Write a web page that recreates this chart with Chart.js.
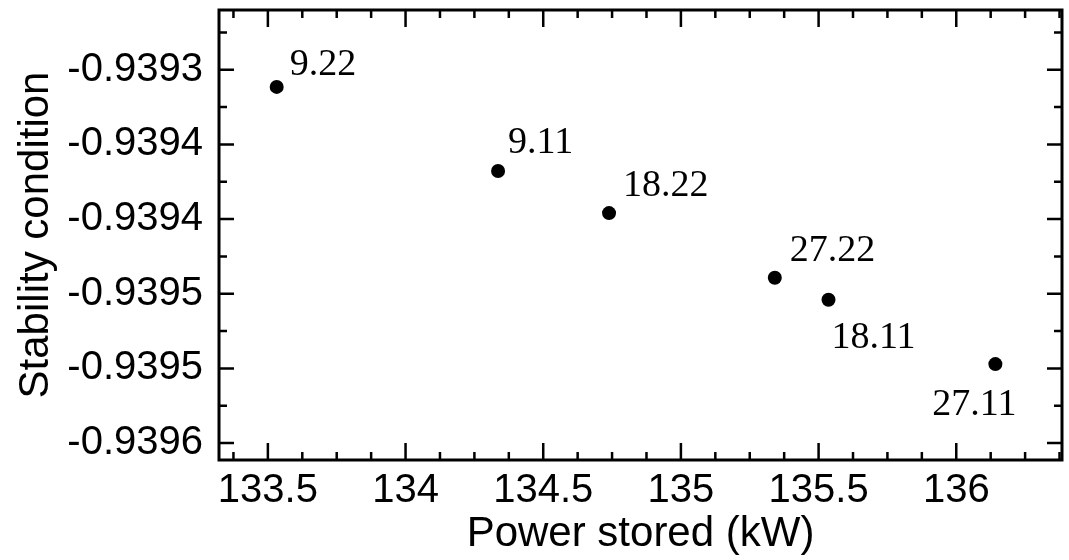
<!DOCTYPE html>
<html>
<head>
<meta charset="utf-8">
<script src="https://cdn.jsdelivr.net/npm/chart.js@4.4.0/dist/chart.umd.min.js"></script>
<style>
html, body { margin: 0; padding: 0; background: #fff; }
#wrap { width: 1069px; height: 560px; }
</style>
</head>
<body>
<div id="wrap"><canvas id="stabilityChart" width="1069" height="560"></canvas></div>
<script>
// data
var pointLabels = ['9.22', '9.11', '18.22', '27.22', '18.11', '27.11'];
var powerStored = [133.532, 134.336, 134.739, 135.341, 135.536, 136.142];
var stabilityCond = [-0.9393115, -0.9393678, -0.939396, -0.9394393, -0.939454, -0.9394971];

// axis ticks
var xTickValues = [133.5, 134, 134.5, 135, 135.5, 136];
var xTickLabels = ['133.5', '134', '134.5', '135', '135.5', '136'];
var yTickValues = [-0.9393, -0.93935, -0.9394, -0.93945, -0.9395, -0.93955];
var yTickLabels = ['-0.9393', '-0.9394', '-0.9394', '-0.9395', '-0.9395', '-0.9396'];

// where each label sits next to its dot (px, left / baseline)
var labelOffsets = [[13, -12], [10, -18], [14, -17], [15, -17], [3, 48], [-63, 51]];

var points = powerStored.map(function (x, i) {
    return { x: x, y: stabilityCond[i] };
});

// frame with inward ticks on all four sides + point labels
var framePlugin = {
    id: 'frame',
    afterDraw: function (chart) {
        var ctx = chart.ctx;
        var a = chart.chartArea;
        var xs = chart.scales.x;
        var ys = chart.scales.y;
        ctx.save();
        ctx.strokeStyle = '#000';
        ctx.lineCap = 'butt';

        // x ticks (major 0.5, minor 0.125)
        ctx.lineWidth = 2.5;
        for (var v = 133.25; v <= 136.5; v += 0.125) {
            var px = xs.getPixelForValue(v);
            if (px < a.left + 2 || px > a.right - 1) continue;
            var major = Math.abs(v * 2 - Math.round(v * 2)) < 1e-6;
            var len = major ? 17 : 8;
            ctx.beginPath();
            ctx.moveTo(px, a.bottom); ctx.lineTo(px, a.bottom - len);
            ctx.moveTo(px, a.top); ctx.lineTo(px, a.top + len);
            ctx.stroke();
        }
        // y ticks (major 0.00005, minor 0.000025)
        for (var k = -2; k <= 12; k++) {
            var val = -0.9393 - k * 0.000025;
            var py = ys.getPixelForValue(val);
            if (py < a.top + 1 || py > a.bottom - 2) continue;
            var maj = k % 2 === 0;
            var l = maj ? 15 : 8;
            ctx.beginPath();
            ctx.moveTo(a.left, py); ctx.lineTo(a.left + l, py);
            ctx.moveTo(a.right, py); ctx.lineTo(a.right - l, py);
            ctx.stroke();
        }
        // frame
        ctx.lineWidth = 3;
        ctx.strokeRect(a.left, a.top, a.right - a.left, a.bottom - a.top);

        // labels
        var meta = chart.getDatasetMeta(0);
        ctx.fillStyle = '#000';
        ctx.font = '38px "Liberation Serif", "Times New Roman", serif';
        ctx.textAlign = 'left';
        ctx.textBaseline = 'alphabetic';
        meta.data.forEach(function (pt, i) {
            ctx.fillText(pointLabels[i], pt.x + labelOffsets[i][0], pt.y + labelOffsets[i][1]);
        });
        ctx.restore();
    }
};

Chart.defaults.font.family = '"Liberation Sans", Arial, sans-serif';
Chart.defaults.color = '#000';

var ctx = document.getElementById('stabilityChart').getContext('2d');
var stabilityChart = new Chart(ctx, {
    type: 'scatter',
    data: {
        datasets: [{
            label: 'Stability condition',
            data: points,
            backgroundColor: '#000',
            borderWidth: 0,
            pointRadius: 7,
            pointHoverRadius: 7
        }]
    },
    options: {
        responsive: false,
        animation: false,
        devicePixelRatio: 1,
        layout: { padding: { top: 10, right: 5, left: 0, bottom: 0 } },
        plugins: {
            legend: { display: false },
            tooltip: { enabled: false }
        },
        scales: {
            x: {
                type: 'linear',
                min: 133.3225,
                max: 136.384,
                grid: { display: false, drawTicks: false },
                border: { display: false },
                afterBuildTicks: function (scale) {
                    scale.ticks = xTickValues.map(function (v) { return { value: v }; });
                },
                afterFit: function (scale) {
                    scale.height = 100;
                    scale.paddingLeft = 0;
                    scale.paddingRight = 0;
                },
                ticks: {
                    autoSkip: false,
                    maxRotation: 0,
                    padding: 7,
                    font: { size: 40 },
                    callback: function (value, index) { return xTickLabels[index]; }
                },
                title: {
                    display: true,
                    text: 'Power stored (kW)',
                    font: { size: 42 },
                    padding: { top: 0, bottom: 0 }
                }
            },
            y: {
                type: 'linear',
                min: -0.9395613,
                max: -0.93926,
                grid: { display: false, drawTicks: false },
                border: { display: false },
                afterBuildTicks: function (scale) {
                    scale.ticks = yTickValues.map(function (v) { return { value: v }; });
                },
                afterFit: function (scale) {
                    scale.width = 219;
                    scale.paddingTop = 0;
                    scale.paddingBottom = 0;
                },
                ticks: {
                    autoSkip: false,
                    padding: 16,
                    font: { size: 40 },
                    callback: function (value, index) { return yTickLabels[index]; }
                },
                title: {
                    display: true,
                    text: 'Stability condition',
                    font: { size: 42 },
                    padding: { top: 11, bottom: 0 }
                }
            }
        }
    },
    plugins: [framePlugin]
});
</script>
</body>
</html>
